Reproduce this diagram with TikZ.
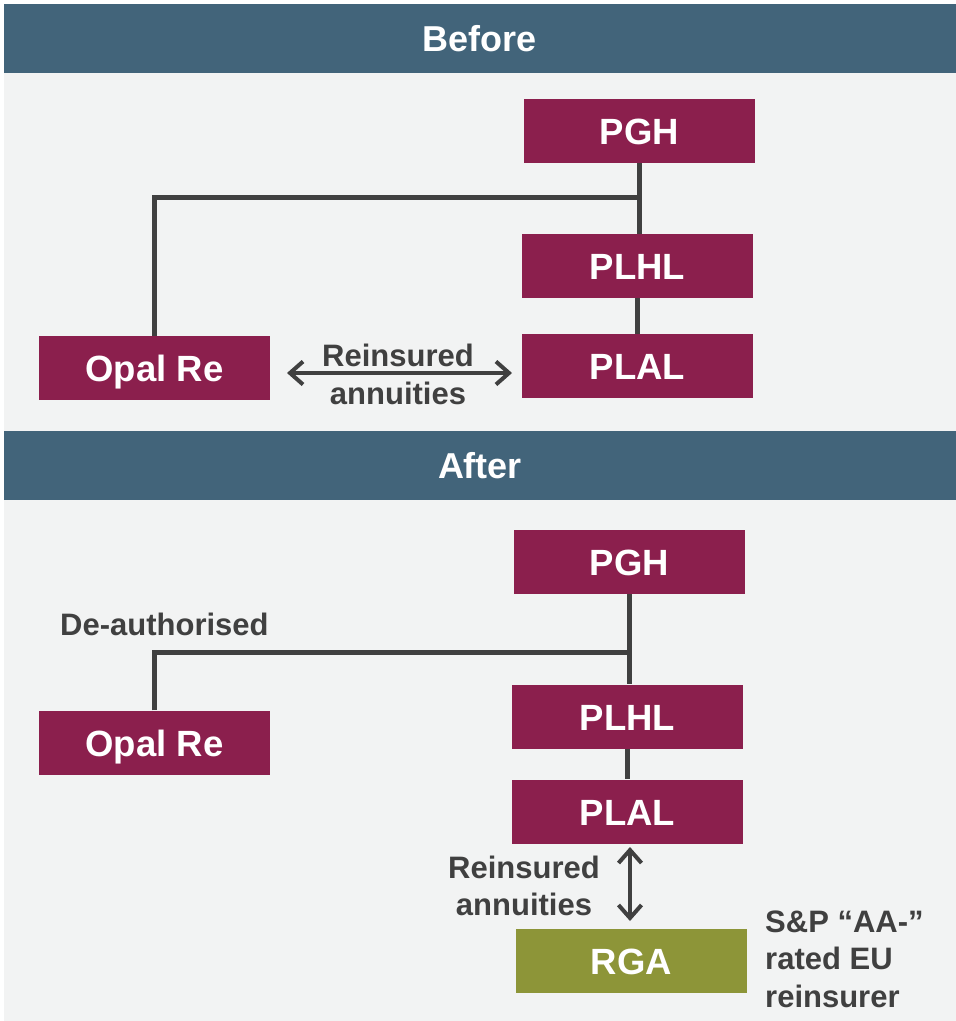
\documentclass[tikz,border=0pt]{standalone}
\usepackage{fontspec}
\setmainfont{Liberation Sans}
\usetikzlibrary{arrows.meta}
\definecolor{bannerblue}{HTML}{42647A}
\definecolor{panelgrey}{HTML}{F2F3F3}
\definecolor{maroon}{HTML}{8B1F4D}
\definecolor{olive}{HTML}{8D9538}
\definecolor{darktext}{HTML}{404040}
\begin{document}
\begin{tikzpicture}[x=1pt,y=-1pt,
  banner/.style={fill=bannerblue, text=white, minimum width=952pt, minimum height=69pt, inner sep=0pt,
    text height=26pt, text depth=0pt, font=\fontsize{36}{40}\selectfont\bfseries},
  entity/.style={fill=maroon, text=white, minimum width=231pt, minimum height=64pt, inner sep=0pt,
    text height=27pt, text depth=0pt, font=\fontsize{36.5}{40}\selectfont\bfseries},
  rgabox/.style={entity, fill=olive},
  lbl/.style={text=darktext, inner sep=0pt, font=\fontsize{31}{37.5}\selectfont\bfseries},
  link/.style={draw=darktext, line width=5pt},
  flow/.style={draw=darktext, line width=4pt, {Straight Barb[length=13pt,width=23pt]}-{Straight Barb[length=13pt,width=23pt]}}
]
\useasboundingbox (0,0) rectangle (956,1021);
\fill[white] (0,0) rectangle (956,1021);
\fill[panelgrey] (4,73) rectangle (956,431);
\fill[panelgrey] (4,500) rectangle (956,1021);

% banners
\node[banner] (before) at (480,38.5) {Before};
\node[banner] (after) at (480,465.5) {After};

% ---------- Before ----------
\node[entity] (pgh1) at (639.5,131) {PGH};
\node[entity] (plhl1) at (637.5,266) {PLHL};
\node[entity] (plal1) at (637.5,366) {PLAL};
\node[entity] (opal1) at (154.5,368) {Opal Re};

\coordinate (j1) at (639.5,197.5);
\draw[link] (pgh1.south) -- (pgh1.south |- plhl1.north);
\draw[link] (opal1.north) |- (j1);
\draw[link] (plhl1) -- (plal1);

\coordinate (a1) at (287,373);
\coordinate (a2) at (512,373);
\draw[flow] (a1) -- (a2);
\node[lbl, anchor=base] (re1) at (398,366) {Reinsured};
\node[lbl, anchor=base] (an1) at (398,404) {annuities};

% ---------- After ----------
\node[entity] (pgh2) at (629.5,562) {PGH};
\node[entity] (plhl2) at (627.5,716.5) {PLHL};
\node[entity] (plal2) at (627.5,811.5) {PLAL};
\node[entity] (opal2) at (154.5,742.5) {Opal Re};
\node[rgabox] (rga) at (631.5,961) {RGA};

\coordinate (j2) at (629.5,652);
\draw[link] (pgh2.south) -- (pgh2.south |- plhl2.north);
\draw[link] (opal2.north) |- (j2);
\draw[link] (plhl2) -- (plal2);

\node[lbl, anchor=base west] (deauth) at (60,635) {De-authorised};

\coordinate (b1) at (630,847);
\coordinate (b2) at (630,921);
\draw[flow] (b1) -- (b2);
\node[lbl, anchor=base] (re2) at (524,878) {Reinsured};
\node[lbl, anchor=base] (an2) at (524,915) {annuities};

\node[lbl, anchor=base west] (sp1) at (765,932) {S\&P “AA-”};
\node[lbl, anchor=base west] (sp2) at (765,969.5) {rated EU};
\node[lbl, anchor=base west] (sp3) at (765,1007) {reinsurer};
\end{tikzpicture}
\end{document}
